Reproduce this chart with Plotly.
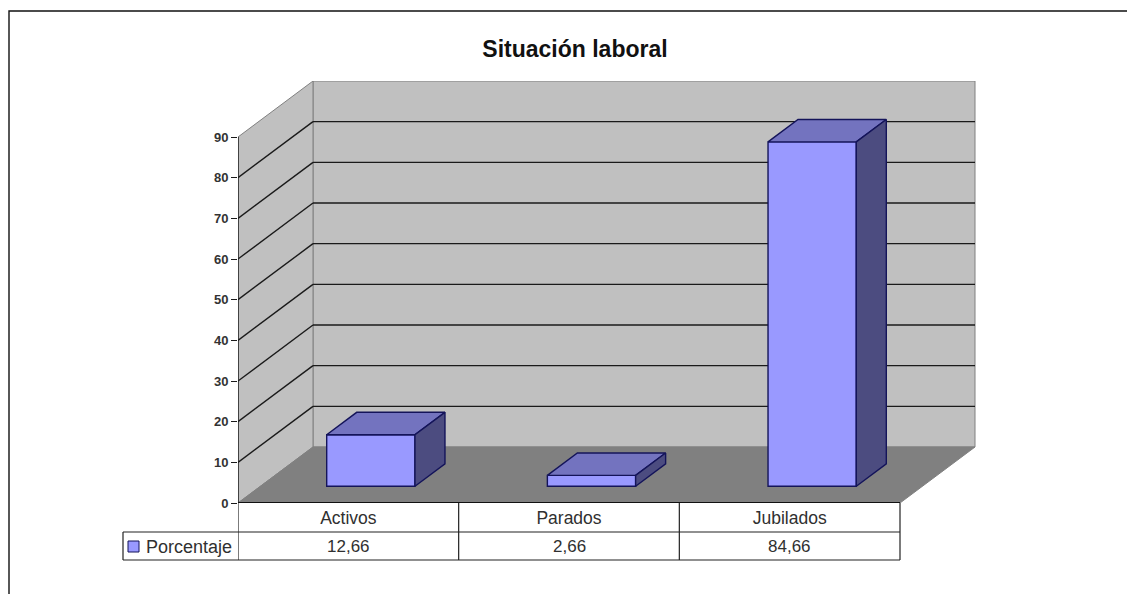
import plotly.graph_objects as go

# ---- data ----
title_text = "Situación laboral"
categories = ["Activos", "Parados", "Jubilados"]
series_name = "Porcentaje"
values = [12.66, 2.66, 84.66]
value_labels = ["12,66", "2,66", "84,66"]
y_ticks = [0, 10, 20, 30, 40, 50, 60, 70, 80, 90]

# ---- layout geometry (pixels of the page) ----
W, H = 1127, 594
L, R, T, B = 238, 976, 81, 503
X_UNIT = (900 - 238) / 3.0
Y_UNIT = (503 - 137) / 90.0
DEPTH_X = 75 / X_UNIT
DEPTH_Y = 56 / Y_UNIT
X_MAX = (R - L) / X_UNIT
Y_MAX = (B - T) / Y_UNIT

BAR_W = 0.4
F0, F1 = 0.3, 0.7   # front / back of the bars within the chart depth

FRONT, TOP_C, SIDE = "#9999FF", "#7373BF", "#4C4C80"
OUTLINE = "#14145A"
WALL, FLOOR, EDGE = "#C0C0C0", "#808080", "#808080"
INK = "#303030"
FONT = "Liberation Sans"


def px(x):
    return (x - L) / (R - L)


def py(y):
    return (B - y) / (B - T)


shapes = []


def poly(points, fill, color, width=1):
    path = "M " + " L ".join(f"{a} {b}" for a, b in points) + " Z"
    shapes.append(dict(type="path", path=path, xref="x", yref="y", layer="below",
                       fillcolor=fill, line=dict(color=color, width=width)))


# walls and floor
poly([(DEPTH_X, DEPTH_Y), (3 + DEPTH_X, DEPTH_Y), (3 + DEPTH_X, 90 + DEPTH_Y), (DEPTH_X, 90 + DEPTH_Y)], WALL, EDGE)
poly([(0, 0), (DEPTH_X, DEPTH_Y), (DEPTH_X, 90 + DEPTH_Y), (0, 90)], WALL, EDGE)
poly([(0, 0), (3, 0), (3 + DEPTH_X, DEPTH_Y), (DEPTH_X, DEPTH_Y)], FLOOR, EDGE)

# gridlines
for v in y_ticks[1:-1]:
    for x0, y0, x1, y1 in [(0, v, DEPTH_X, v + DEPTH_Y), (DEPTH_X, v + DEPTH_Y, 3 + DEPTH_X, v + DEPTH_Y)]:
        shapes.append(dict(type="line", xref="x", yref="y", layer="below", x0=x0, y0=y0, x1=x1, y1=y1,
                           line=dict(color="#1a1a1a", width=1.4)))

# value axis line and front floor edge
shapes.append(dict(type="line", xref="x", yref="y", x0=0, x1=0, y0=0, y1=90,
                   line=dict(color="#1a1a1a", width=1.4)))
shapes.append(dict(type="line", xref="x", yref="y", x0=0, x1=3, y0=0, y1=0,
                   line=dict(color="#111111", width=1.8)))

# data table
table_line = dict(color="#222222", width=1.2)
for i in range(len(categories) + 1):
    shapes.append(dict(type="line", xref="x", yref="paper", x0=i, x1=i, y0=py(503), y1=py(560), line=table_line))
for yy in (532, 560):
    shapes.append(dict(type="line", xref="paper", yref="paper", x0=px(123), x1=px(900), y0=py(yy), y1=py(yy), line=table_line))
shapes.append(dict(type="line", xref="paper", yref="paper", x0=px(123), x1=px(123), y0=py(532), y1=py(560), line=table_line))
# legend key
shapes.append(dict(type="rect", xref="paper", yref="paper", x0=px(128), x1=px(139), y0=py(541), y1=py(552),
                   fillcolor=FRONT, line=dict(color=OUTLINE, width=1)))

# outer chart border (left and top only reach the photo)
shapes.append(dict(type="path", xref="paper", yref="paper",
                   path=f"M {px(9)} {py(594)} L {px(9)} {py(11)} L {px(1127)} {py(11)}",
                   line=dict(color="#111111", width=1.4)))

fig = go.Figure()

centers = [i + 0.5 + F0 * DEPTH_X for i in range(len(categories))]
base_y = F0 * DEPTH_Y
dx = (F1 - F0) * DEPTH_X
dy = (F1 - F0) * DEPTH_Y

fig.add_trace(go.Bar(
    x=centers, y=values, base=[base_y] * len(values), width=BAR_W, name=series_name,
    marker=dict(color=FRONT, line=dict(color=OUTLINE, width=1.4)), showlegend=False,
))

for c, v in zip(centers, values):
    x0, x1 = c - BAR_W / 2, c + BAR_W / 2
    top = base_y + v
    fig.add_trace(go.Scatter(
        x=[x0, x1, x1 + dx, x0 + dx, x0], y=[top, top, top + dy, top + dy, top],
        mode="lines", fill="toself", fillcolor=TOP_C, line=dict(color=OUTLINE, width=1.4), showlegend=False,
    ))
    fig.add_trace(go.Scatter(
        x=[x1, x1 + dx, x1 + dx, x1, x1], y=[base_y, base_y + dy, top + dy, top, base_y],
        mode="lines", fill="toself", fillcolor=SIDE, line=dict(color=OUTLINE, width=1.4), showlegend=False,
    ))

annotations = [
    dict(text=lab, x=i + 0.5, xref="x", y=py(546.5), yref="paper", showarrow=False,
         xanchor="center", yanchor="middle", font=dict(family=FONT, size=17, color=INK))
    for i, lab in enumerate(value_labels)
]
annotations.append(dict(text=series_name, x=px(234), xref="paper", y=py(546.5), yref="paper", showarrow=False,
                        xanchor="right", yanchor="middle",
                        font=dict(family=FONT, size=18, color=INK)))

fig.update_layout(
    width=W, height=H,
    margin=dict(l=L, r=W - R, t=T, b=H - B, pad=0),
    paper_bgcolor="white", plot_bgcolor="white",
    title=dict(text=title_text, x=575 / W, xanchor="center", y=1 - 48.5 / H, yanchor="middle",
               font=dict(family=FONT, size=23, color="#111111", weight="bold")),
    xaxis=dict(range=[0, X_MAX], tickmode="array", tickvals=[i + 0.5 for i in range(3)], ticktext=categories,
               showgrid=False, zeroline=False, showline=False, ticks="", ticklabelstandoff=2,
               tickfont=dict(family=FONT, size=17.5, color=INK)),
    yaxis=dict(range=[0, Y_MAX], tickmode="array", tickvals=y_ticks, showgrid=False, zeroline=False, showline=False,
               ticks="outside", ticklen=6, tickwidth=1.4, tickcolor="#1a1a1a",
               tickfont=dict(family=FONT, size=13, color="#333333", weight="bold")),
    shapes=shapes, annotations=annotations, showlegend=False, barmode="overlay",
)

fig.write_html("out.html", config={"displayModeBar": False},
               post_script="document.body.style.margin='0';document.body.style.overflow='hidden';")
